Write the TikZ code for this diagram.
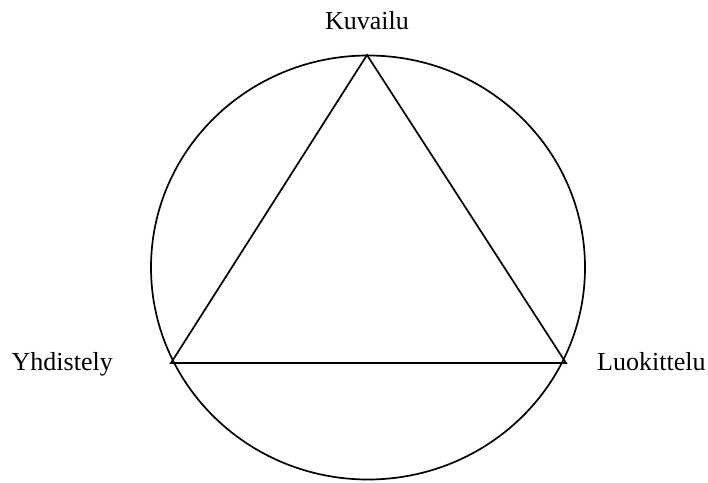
\documentclass[tikz,border=0pt]{standalone}
\usepackage{fontspec}
\setmainfont{Liberation Serif}
\usepackage{tikz}
\tikzset{
  kulma/.style={inner sep=0pt},
  nimi/.style={inner sep=0pt,font=\fontsize{26}{31}\selectfont},
  viiva/.style={line width=1.7pt,black}
}

\begin{document}
\begin{tikzpicture}[x=1pt,y=1pt]
\path[use as bounding box] (0,0) rectangle (708,482);
% ympyra
\draw[viiva] (368,214.5) ellipse [x radius=217,y radius=212];
% kolmion karjet
\coordinate (kuv) at (367,427);
\coordinate (yhd) at (171,119);
\coordinate (luo) at (566,119);
\draw[viiva,line join=miter] (kuv) -- (yhd) -- (luo) -- cycle;
% nimet
\node[nimi,anchor=base] (kuvailu) at (367,452) {Kuvailu};
\node[nimi,anchor=base east] (yhdistely) at (113,112) {Yhdistely};
\node[nimi,anchor=base west] (luokittelu) at (597,112) {Luokittelu};
\end{tikzpicture}
\end{document}
